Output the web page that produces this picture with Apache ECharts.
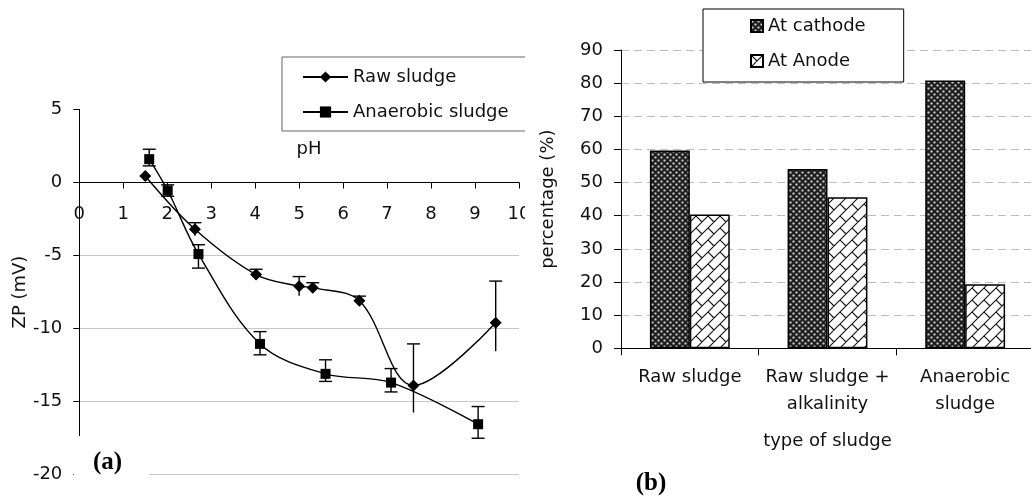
<!DOCTYPE html>
<html>
<head>
<meta charset="utf-8">
<script src="https://cdn.jsdelivr.net/npm/echarts@6/dist/echarts.min.js"></script>
<style>
  html, body { margin: 0; padding: 0; background: #fff; }
  #chart { width: 1031px; height: 497px; }
</style>
</head>
<body>
<div id="chart"></div>
<script>
// Panel (a): zeta potential of the sludges against pH
const rawPH        = [1.5, 2.63, 4.02, 5.0, 5.31, 6.37, 7.6, 9.47];
const rawZP        = [0.45, -3.2, -6.3, -7.1, -7.2, -8.1, -13.9, -9.6];
const rawErrUp     = [0, 0.45, 0.36, 0.66, 0.34, 0.32, 2.85, 2.85];
const rawErrDown   = [0, 0.45, 0.36, 0.66, 0.34, 0.32, 1.85, 1.95];

const anaPH        = [1.59, 2.01, 2.71, 4.11, 5.6, 7.09, 9.07];
const anaZP        = [1.6, -0.55, -4.9, -11.05, -13.1, -13.7, -16.55];
const anaErrUp     = [0.68, 0.39, 0.64, 0.84, 0.96, 0.96, 1.21];
const anaErrDown   = [0.46, 0.39, 0.96, 0.75, 0.52, 0.64, 0.96];

// Panel (b): share of sludge collected at each electrode
const sludgeTypes  = ['Raw sludge', 'Raw sludge +\nalkalinity', 'Anaerobic\nsludge'];
const atCathode    = [59.7, 54.1, 80.8];
const atAnode      = [40.4, 45.6, 19.3];

const FONT = '"DejaVu Sans", "Liberation Sans", sans-serif';
const INK = '#111';

// plot area of panel (a) and the pixel offset that puts its pH axis on ZP = 0
const GRID_A = { left: 79.3, top: 109.5, width: 439.7, height: 365.1 };
const ZP_MIN = -20, ZP_MAX = 5;
const PH_AXIS_OFFSET = -GRID_A.height * (0 - ZP_MIN) / (ZP_MAX - ZP_MIN);

// dark dotted fill for the cathode bars
function dotPattern() {
  const c = document.createElement('canvas');
  c.width = 6; c.height = 6;
  const g = c.getContext('2d');
  g.fillStyle = '#1e1e1e';
  g.fillRect(0, 0, 6, 6);
  g.fillStyle = '#9a9a9a';
  [[1.5, 1.5], [4.5, 4.5]].forEach(([x, y]) => {
    g.beginPath(); g.arc(x, y, 1.3, 0, Math.PI * 2); g.fill();
  });
  g.fillStyle = '#d8d8d8';
  g.fillRect(1, 1, 1, 1); g.fillRect(4, 4, 1, 1);
  return c;
}

// white diagonal-brick fill for the anode bars
function brickPattern() {
  const P = 12;
  const c = document.createElement('canvas');
  c.width = P; c.height = P;
  const g = c.getContext('2d');
  g.fillStyle = '#fff';
  g.fillRect(0, 0, P, P);
  g.strokeStyle = '#111';
  g.lineWidth = 1.1;
  g.beginPath();
  for (let s = -P; s <= 3 * P; s += P) {
    g.moveTo(-5, s + 5); g.lineTo(P + 5, s - P - 5);
  }
  for (let k = -2; k <= 3; k++) {
    for (let m = -3; m <= 3; m++) {
      const cc = P * k + 2 * P * m;
      const a = P * k, b = P * k + P;
      g.moveTo((a + cc) / 2, (a - cc) / 2);
      g.lineTo((b + cc) / 2, (b - cc) / 2);
    }
  }
  g.stroke();
  return c;
}

function errorBars(bottomCap) {
  return function (params, api) {
    const x = api.value(0), y = api.value(1);
    const up = api.value(2), down = api.value(3);
    if (!up && !down) return null;
    const hi = api.coord([x, y + up]);
    const lo = api.coord([x, y - down]);
    const hw = 6.5;
    const style = { stroke: '#000', lineWidth: 1.4 };
    const children = [
      { type: 'line', shape: { x1: hi[0], y1: hi[1], x2: lo[0], y2: lo[1] }, style },
      { type: 'line', shape: { x1: hi[0] - hw, y1: hi[1], x2: hi[0] + hw, y2: hi[1] }, style }
    ];
    if (bottomCap) {
      children.push({ type: 'line', shape: { x1: lo[0] - hw, y1: lo[1], x2: lo[0] + hw, y2: lo[1] }, style });
    }
    return { type: 'group', children };
  };
}

const cathodeFill = { image: dotPattern(), repeat: 'repeat' };
const anodeFill = { image: brickPattern(), repeat: 'repeat' };

const chart = echarts.init(document.getElementById('chart'), null, { renderer: 'canvas' });

const axisText = { color: INK, fontSize: 18, fontFamily: FONT };

chart.setOption({
  animation: false,
  backgroundColor: '#fff',
  textStyle: { fontFamily: FONT, color: INK, fontSize: 18 },
  grid: [
    Object.assign({ outerBoundsMode: 'none' }, GRID_A),
    { left: 621, top: 50, width: 413, height: 298.3, outerBoundsMode: 'none' }
  ],
  xAxis: [
    {
      gridIndex: 0, type: 'value', min: 0, max: 10, interval: 1,
      position: 'bottom', offset: PH_AXIS_OFFSET,
      axisLine: { show: true, onZero: false, lineStyle: { color: '#000', width: 1 } },
      axisTick: { show: true, length: 6, lineStyle: { color: '#000' } },
      axisLabel: Object.assign({ margin: 23, showMinLabel: true, showMaxLabel: true }, axisText),
      splitLine: { show: false }
    },
    {
      gridIndex: 1, type: 'category', data: sludgeTypes,
      axisLine: { show: true, lineStyle: { color: '#000', width: 1 } },
      axisTick: { show: true, length: 7, alignWithLabel: false, lineStyle: { color: '#000' } },
      axisLabel: Object.assign({ margin: 16, lineHeight: 27, interval: 0 }, axisText),
      splitLine: { show: false },
      name: 'type of sludge', nameLocation: 'middle', nameGap: 84,
      nameTextStyle: axisText
    }
  ],
  yAxis: [
    {
      gridIndex: 0, type: 'value', min: ZP_MIN, max: ZP_MAX, interval: 5,
      axisLine: { show: true, onZero: false, lineStyle: { color: '#000', width: 1 } },
      axisTick: { show: true, length: 6, lineStyle: { color: '#000' } },
      axisLabel: Object.assign({ margin: 17 }, axisText),
      splitLine: { show: true, showMaxLine: false, lineStyle: { color: '#c8c8c8', width: 1 } },
      name: 'ZP (mV)', nameLocation: 'middle', nameGap: 46,
      nameTextStyle: axisText
    },
    {
      gridIndex: 1, type: 'value', min: 0, max: 90, interval: 10,
      axisLine: { show: true, lineStyle: { color: '#000', width: 1 } },
      axisTick: { show: true, length: 7, lineStyle: { color: '#000' } },
      axisLabel: Object.assign({ margin: 18 }, axisText),
      splitLine: { show: true, lineStyle: { color: '#bdbdbd', width: 1, type: [8, 5] } },
      name: 'percentage (%)', nameLocation: 'middle', nameGap: 64,
      nameTextStyle: axisText
    }
  ],
  legend: [
    {
      data: ['Raw sludge', 'Anaerobic sludge'],
      orient: 'vertical', left: 282, top: 57,
      padding: [10, 20, 9, 20],
      itemWidth: 45, itemHeight: 14, itemGap: 15,
      borderColor: '#666', borderWidth: 1, backgroundColor: '#fff',
      selectedMode: false,
      textStyle: { fontSize: 18, lineHeight: 20, color: INK, fontFamily: FONT }
    },
    {
      data: ['At cathode', 'At Anode'],
      orient: 'vertical', left: 703, top: 9,
      padding: [7, 38, 11, 47],
      itemWidth: 12, itemHeight: 12, itemGap: 15, icon: 'rect',
      borderColor: '#000', borderWidth: 1, backgroundColor: '#fff',
      selectedMode: false,
      textStyle: { fontSize: 18, lineHeight: 20, color: INK, fontFamily: FONT }
    }
  ],
  series: [
    {
      name: 'Raw sludge', type: 'line', xAxisIndex: 0, yAxisIndex: 0,
      data: rawPH.map((x, i) => [x, rawZP[i]]),
      smooth: 0.35, symbol: 'diamond', symbolSize: 12,
      lineStyle: { color: '#000', width: 1.4 },
      itemStyle: { color: '#000' },
      emphasis: { disabled: true }, z: 3
    },
    {
      name: 'Anaerobic sludge', type: 'line', xAxisIndex: 0, yAxisIndex: 0,
      data: anaPH.map((x, i) => [x, anaZP[i]]),
      smooth: 0.35, symbol: 'rect', symbolSize: 10,
      lineStyle: { color: '#000', width: 1.4 },
      itemStyle: { color: '#000' },
      emphasis: { disabled: true }, z: 3
    },
    {
      name: 'raw error', type: 'custom', xAxisIndex: 0, yAxisIndex: 0,
      data: rawPH.map((x, i) => [x, rawZP[i], rawErrUp[i], rawErrDown[i]]),
      renderItem: errorBars(false), encode: { x: 0, y: 1 }, z: 4, silent: true
    },
    {
      name: 'anaerobic error', type: 'custom', xAxisIndex: 0, yAxisIndex: 0,
      data: anaPH.map((x, i) => [x, anaZP[i], anaErrUp[i], anaErrDown[i]]),
      renderItem: errorBars(true), encode: { x: 0, y: 1 }, z: 4, silent: true
    },
    {
      name: 'At cathode', type: 'bar', xAxisIndex: 1, yAxisIndex: 1,
      data: atCathode, barCategoryGap: '42%', barGap: '0%',
      itemStyle: { color: cathodeFill, borderColor: '#000', borderWidth: 1.5 },
      emphasis: { disabled: true }
    },
    {
      name: 'At Anode', type: 'bar', xAxisIndex: 1, yAxisIndex: 1,
      data: atAnode, barCategoryGap: '42%', barGap: '0%',
      itemStyle: { color: anodeFill, borderColor: '#000', borderWidth: 1.5 },
      emphasis: { disabled: true }
    }
  ],
  graphic: [
    { type: 'rect', shape: { x: 74, y: 436, width: 75, height: 61 }, style: { fill: '#fff' }, z: 100 },
    { type: 'rect', shape: { x: 525, y: 0, width: 12, height: 497 }, style: { fill: '#fff' }, z: 100 },
    { type: 'text', x: 107.5, y: 463, z: 101,
      style: { text: '(a)', font: 'bold 25px "Liberation Serif", serif', fill: '#000', textAlign: 'center', textVerticalAlign: 'middle' } },
    { type: 'text', x: 309, y: 149, z: 101,
      style: { text: 'pH', font: '18px ' + FONT, fill: INK, textAlign: 'center', textVerticalAlign: 'middle' } },
    { type: 'text', x: 651, y: 484, z: 101,
      style: { text: '(b)', font: 'bold 25px "Liberation Serif", serif', fill: '#000', textAlign: 'center', textVerticalAlign: 'middle' } }
  ]
});
</script>
</body>
</html>
